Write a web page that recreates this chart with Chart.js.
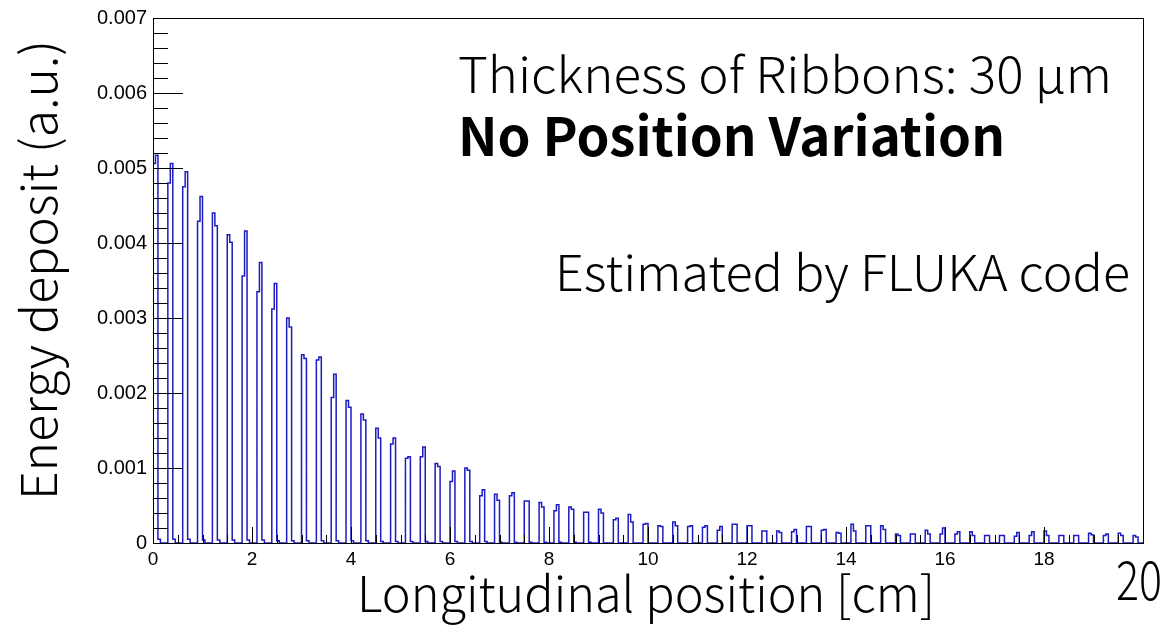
<!DOCTYPE html>
<html><head><meta charset="utf-8">
<script src="https://cdn.jsdelivr.net/npm/chart.js@4.4.1/dist/chart.umd.min.js"></script>
<style>html,body{margin:0;padding:0;background:#fff;}#wrap{width:1167px;height:625px;}</style>
</head><body><div id="wrap"><canvas id="c" width="1167" height="625"></canvas></div>
<script>
// ---- histogram binning (cm) ----
const xMin = 0, xMax = 20;
const yMin = 0, yMax = 0.007;
const binWidth = 0.05;      // cm
const spikeStart = 0.0;     // cm, left edge of first ribbon spike
const spikePeriod = 0.3;    // cm, ribbon spacing

// energy deposit in the two bins of each ribbon spike (left bin, right bin)
const spikeLeft = [
  0.00506, 0.00480, 0.00475, 0.00429, 0.00440, 0.00411, 0.00356, 0.00335, 0.00312, 0.00300,
  0.00251, 0.00244, 0.00194, 0.00190, 0.00172, 0.00153, 0.00132, 0.00113, 0.00115, 0.00106,
  0.00082, 0.00100, 0.00063, 0.00065, 0.00063, 0.00056, 0.00054, 0.00043, 0.00048, 0.00041,
  0.00045, 0.00031, 0.00038, 0.00025, 0.00023, 0.00028, 0.00022, 0.00021, 0.00017, 0.00025,
  0.00023, 0.00016, 0.00016, 0.00015, 0.00022, 0.00017, 0.00014, 0.00025, 0.00023, 0.00023,
  0.00012, 0.00012, 0.00017, 0.00012, 0.00012, 0.00015, 0.00010, 0.00010, 0.00009, 0.00010,
  0.00016, 0.00010, 0.00010, 0.00013, 0.00010, 0.00013, 0.00010
];
const spikeRight = [
  0.00517, 0.00506, 0.00495, 0.00462, 0.00423, 0.00401, 0.00416, 0.00374, 0.00346, 0.00288,
  0.00246, 0.00248, 0.00225, 0.00181, 0.00164, 0.00140, 0.00140, 0.00115, 0.00128, 0.00102,
  0.00096, 0.00097, 0.00071, 0.00057, 0.00067, 0.00056, 0.00048, 0.00051, 0.00045, 0.00041,
  0.00040, 0.00033, 0.00028, 0.00026, 0.00022, 0.00023, 0.00023, 0.00023, 0.00022, 0.00025,
  0.00023, 0.00016, 0.00014, 0.00018, 0.00022, 0.00018, 0.00013, 0.00016, 0.00023, 0.00018,
  0.00010, 0.00012, 0.00012, 0.00020, 0.00015, 0.00010, 0.00010, 0.00010, 0.00014, 0.00015,
  0.00010, 0.00010, 0.00010, 0.00011, 0.00012, 0.00010, 0.00008
];
// small deposit in the bin just after each spike
const spikeTail = [
  0.00005, 0.00005, 0.00005, 0.00004, 0.00004, 0.00004, 0.00004, 0.00004, 0.00003, 0.00003,
  0.00003, 0.00003, 0.00003, 0.00003, 0.00003, 0.00002, 0.00002, 0.00002, 0.00002, 0.00002,
  0.00002, 0.00002, 0.00002, 0.00001, 0.00001, 0.00001, 0.00001, 0.00001, 0.00001, 0.00001
];

const xTickLabels = ['0','2','4','6','8','10','12','14','16','18'];
const yTickLabels = ['0','0.001','0.002','0.003','0.004','0.005','0.006','0.007'];

function buildOutline(){
  const nb = Math.round((xMax - xMin) / binWidth);
  const vals = new Array(nb).fill(0);
  spikeLeft.forEach((v, k) => {
    const i = Math.round((spikeStart + k * spikePeriod - xMin) / binWidth);
    if (i < nb) vals[i] = v;
    if (i + 1 < nb) vals[i + 1] = spikeRight[k];
    if (i + 2 < nb && spikeTail[k] !== undefined) vals[i + 2] = spikeTail[k];
  });
  const pts = [{x: xMin, y: 0}];
  for (let i = 0; i < nb; i++) {
    const x0 = xMin + i * binWidth, x1 = x0 + binWidth;
    pts.push({x: x0, y: vals[i]}, {x: x1, y: vals[i]});
  }
  pts.push({x: xMax, y: 0});
  return pts;
}

const TITLE_FONT = '"Noto Sans CJK JP", "Noto Sans", sans-serif';

function fitText(ctx, text, x, y, width, font, rot) {
  ctx.save();
  ctx.font = font;
  const w = ctx.measureText(text).width;
  ctx.translate(x, y);
  if (rot) ctx.rotate(rot);
  ctx.scale(width / w, 1);
  ctx.fillStyle = '#000';
  ctx.textBaseline = 'alphabetic';
  ctx.textAlign = 'left';
  ctx.fillText(text, 0, 0);
  ctx.restore();
}

const rootStyle = {
  id: 'rootStyle',
  afterDraw(chart) {
    const {ctx, chartArea: a, scales: {x, y}} = chart;
    ctx.save();
    ctx.strokeStyle = '#000';
    ctx.lineWidth = 1;
    // frame
    ctx.strokeRect(Math.round(a.left) + 0.5, Math.round(a.top) + 0.5, Math.round(a.right - a.left), Math.round(a.bottom - a.top));
    // y ticks (inward)
    ctx.beginPath();
    y.ticks.forEach(t => {
      const py = Math.round(y.getPixelForValue(t.value)) + 0.5;
      const major = yTickLabels.includes(t.label);
      ctx.moveTo(a.left, py);
      ctx.lineTo(a.left + (major ? 30 : 15), py);
    });
    // x ticks (inward)
    x.ticks.forEach(t => {
      const px = Math.round(x.getPixelForValue(t.value)) + 0.5;
      const major = Math.abs(t.value / 2 - Math.round(t.value / 2)) < 1e-6;
      ctx.moveTo(px, a.bottom);
      ctx.lineTo(px, a.bottom - (major ? 16 : 8));
    });
    ctx.stroke();
    ctx.restore();

    // texts
    fitText(ctx, 'Thickness of Ribbons: 30 μm', 458, 93, 654, '300 49px ' + TITLE_FONT);
    fitText(ctx, 'No Position Variation', 458, 156, 547, 'bold 53px ' + TITLE_FONT);
    fitText(ctx, 'Estimated by FLUKA code', 555, 291, 575, '300 49px ' + TITLE_FONT);
    fitText(ctx, 'Longitudinal position [cm]', 357, 612, 578, '300 49px ' + TITLE_FONT);
    fitText(ctx, '20', 1116, 600, 46, '300 54px ' + TITLE_FONT);
    fitText(ctx, 'Energy deposit (a.u.)', 57, 500, 460, '300 49px ' + TITLE_FONT, -Math.PI / 2);
  }
};

new Chart(document.getElementById('c'), {
  type: 'scatter',
  data: {
    datasets: [{
      data: buildOutline(),
      showLine: true,
      borderColor: '#1c1cc0',
      borderWidth: 1.5,
      pointRadius: 0,
      fill: false,
      tension: 0
    }]
  },
  options: {
    responsive: false,
    animation: false,
    events: [],
    layout: {padding: {top: 17, right: 24, left: 0, bottom: 0}},
    plugins: {legend: {display: false}, tooltip: {enabled: false}},
    scales: {
      x: {
        type: 'linear', min: xMin, max: xMax,
        afterFit: s => { s.height = 82; },
        grid: {display: false, drawTicks: false},
        border: {display: false},
        ticks: {
          stepSize: 0.5, autoSkip: false, maxRotation: 0, minRotation: 0, maxTicksLimit: 100,
          padding: 5, color: '#000', font: {family: '"Liberation Sans", Arial, sans-serif', size: 19},
          callback: v => { const s = String(Math.round(v * 100) / 100); return xTickLabels.includes(s) ? s : ''; }
        }
      },
      y: {
        type: 'linear', min: yMin, max: yMax,
        afterFit: s => { s.width = 153; },
        grid: {display: false, drawTicks: false},
        border: {display: false},
        ticks: {
          stepSize: 0.0002, autoSkip: false, maxTicksLimit: 100,
          padding: 6, color: '#000', font: {family: '"Liberation Sans", Arial, sans-serif', size: 20},
          callback: v => {
            const r = Math.round(v * 10000);
            if (r % 10 !== 0) return '';
            const s = r === 0 ? '0' : (r / 10000).toFixed(3);
            return yTickLabels.includes(s) ? s : '';
          }
        }
      }
    }
  },
  plugins: [rootStyle]
});
</script>
</body></html>
